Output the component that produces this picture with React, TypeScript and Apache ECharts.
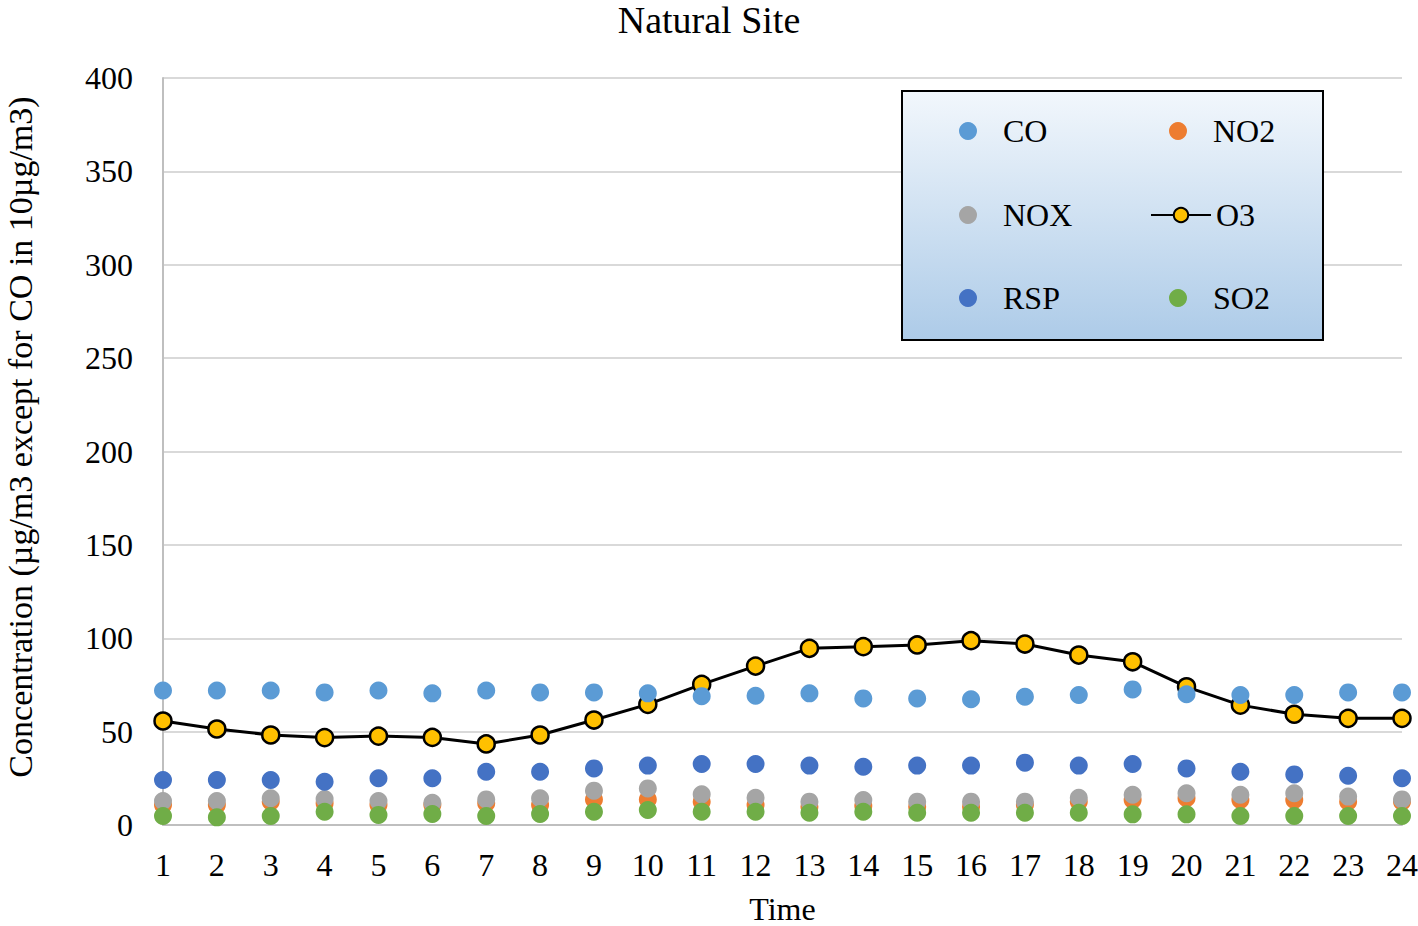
import React, { useEffect, useRef } from "react";
import * as echarts from "echarts";

const hours = ["1","2","3","4","5","6","7","8","9","10","11","12","13","14","15","16","17","18","19","20","21","22","23","24"];
const coValues = [72,72,72,71,72,70.5,72,71,71,70.5,69,69.2,70.5,67.8,67.8,67.3,68.7,69.6,72.6,70,69.6,69.6,71,71];
const no2Values = [10.7,10.7,12.5,11.6,10.7,10.7,11.6,10.7,13.7,13.7,12.5,10.7,9.8,10.2,9.8,9.8,10.7,12.5,13.4,14.3,13.4,13.4,12.5,12.5];
const noxValues = [12.8,12.8,14.3,13.9,12.8,11.9,13.7,14.3,18.4,19.6,16.4,14.6,12.5,13.4,12.5,12.5,12.5,14.6,16.2,17,16.2,17,15.2,13.7];
const o3Values = [55.7,51.4,48.2,46.8,47.6,46.9,43.4,48.2,56.2,64.6,75.3,85.1,94.6,95.5,96.4,98.7,96.9,91,87.4,74,64.2,59.3,57.1,57.1];
const rspValues = [24.1,24.1,24.1,23.2,25,25,28.5,28.5,30.3,31.8,32.7,32.7,31.8,31.2,31.8,31.8,33.4,31.8,32.7,30.3,28.5,27.1,26.4,25];
const so2Values = [4.8,4.1,4.8,7.1,5.4,5.9,4.8,5.9,7.1,8,7.1,7.1,6.6,7.1,6.6,6.6,6.6,6.6,5.7,5.7,4.8,4.8,4.8,4.8];
const yAxisTitle = "Concentration (µg/m3 except for CO in 10µg/m3)";

const FONT = "Liberation Serif";

export default function App() {
  const ref = useRef<HTMLDivElement>(null);
  useEffect(() => {
    if (!ref.current) return;
    const chart = echarts.init(ref.current, null, { renderer: "svg" });
    const scatter = (name: string, data: number[], color: string) => ({
      name,
      type: "scatter",
      data,
      symbol: "circle",
      symbolSize: 18,
      itemStyle: { color, opacity: 1 },
    });
    const legendItem = (name: string, left: number, center: number) => ({
      data: [name],
      left,
      top: center - 16,
      orient: "vertical",
      padding: 0,
      itemWidth: 60,
      itemHeight: 18,
      itemGap: 0,
      z: 20,
      textStyle: { fontFamily: FONT, fontSize: 32, color: "#000", lineHeight: 18, padding: [0, 0, 0, 0] },
    });
    chart.setOption({
      animation: false,
      backgroundColor: "#fff",
      title: {
        text: "Natural Site",
        left: "center",
        top: 1,
        padding: 0,
        textStyle: { fontFamily: FONT, fontSize: 38, fontWeight: "normal", color: "#000" },
      },
      grid: { left: 163, right: 16, top: 78, bottom: 101, containLabel: false, outerBoundsMode: "none" },
      legend: [
        legendItem("CO", 959, 131),
        legendItem("NOX", 959, 215),
        legendItem("RSP", 959, 298),
        legendItem("NO2", 1169, 131),
        legendItem("O3", 1150, 215),
        legendItem("SO2", 1169, 298),
      ],
      graphic: [
        {
          type: "rect",
          z: 10,
          shape: { x: 902, y: 91, width: 421, height: 249 },
          style: {
            fill: new echarts.graphic.LinearGradient(0, 0, 0, 1, [
              { offset: 0, color: "#f2f7fc" },
              { offset: 1, color: "#adcbe8" },
            ]),
            stroke: "#000",
            lineWidth: 2,
          },
        },
        {
          type: "text",
          x: 20,
          y: 437,
          rotation: Math.PI / 2,
          z: 10,
          style: {
            text: yAxisTitle,
            fontFamily: FONT,
            fontSize: 34,
            fill: "#000",
            align: "center",
            verticalAlign: "middle",
          },
        },
      ],
      xAxis: {
        type: "category",
        data: hours,
        boundaryGap: false,
        name: "Time",
        nameLocation: "middle",
        nameGap: 72,
        nameTextStyle: { fontFamily: FONT, fontSize: 32, color: "#000", lineHeight: 24 },
        axisLine: { lineStyle: { color: "#bfbfbf", width: 2 } },
        axisTick: { show: false },
        axisLabel: { fontFamily: FONT, fontSize: 32, color: "#000", margin: 24, interval: 0 },
        splitLine: { show: false },
      },
      yAxis: {
        type: "value",
        min: 0,
        max: 400,
        interval: 50,
        axisLine: { show: true, lineStyle: { color: "#bfbfbf", width: 2 } },
        axisTick: { show: false },
        axisLabel: { fontFamily: FONT, fontSize: 32, color: "#000", margin: 30 },
        splitLine: { lineStyle: { color: "#d9d9d9", width: 2 } },
      },
      series: [
        {
          name: "O3",
          type: "line",
          data: o3Values,
          symbol: "circle",
          symbolSize: 17,
          lineStyle: { color: "#000", width: 3 },
          itemStyle: { color: "#FFC000", borderColor: "#000", borderWidth: 2.5 },
          z: 2,
        },
        scatter("CO", coValues, "#5B9BD5"),
        scatter("NO2", no2Values, "#ED7D31"),
        scatter("NOX", noxValues, "#A5A5A5"),
        scatter("RSP", rspValues, "#4472C4"),
        scatter("SO2", so2Values, "#70AD47"),
      ],
    });
    return () => chart.dispose();
  }, []);
  return (
    <div
      ref={ref}
      style={{ position: "fixed", left: 0, top: 0, width: 1418, height: 926 }}
    />
  );
}
